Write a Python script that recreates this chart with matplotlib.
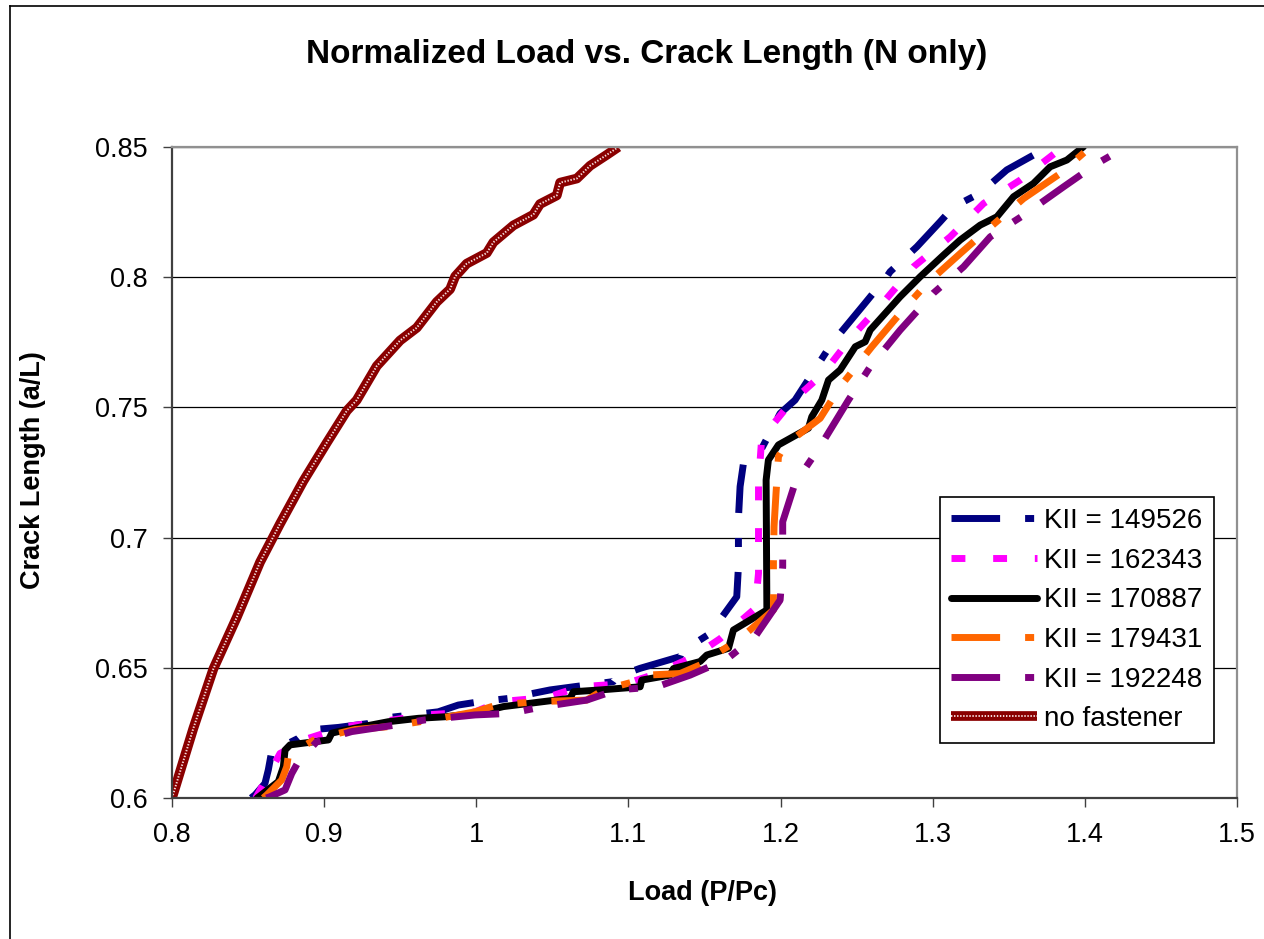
import matplotlib
matplotlib.use('Agg')
import matplotlib.pyplot as plt
from matplotlib.lines import Line2D
from matplotlib.legend_handler import HandlerTuple

plt.rcParams['font.family'] = ['Liberation Sans', 'DejaVu Sans']
plt.rcParams['lines.scale_dashes'] = False

# normalized load (P/Pc) and crack length (a/L) for each KII value
load_149526 = [0.8520, 0.8546, 0.8611, 0.8633, 0.8655, 0.8830, 0.8896, 0.9093,
               0.9290, 0.9378, 0.9575, 0.9750, 0.9882, 1.0025, 1.0222, 1.0375,
               1.0485, 1.0638, 1.0901, 1.0923, 1.1077, 1.1340, 1.1350, 1.1537,
               1.1712, 1.1723, 1.1723, 1.1734, 1.1756, 1.1876, 1.1997, 1.2095,
               1.2337, 1.2545, 1.2698, 1.2720, 1.2896, 1.3049, 1.3137, 1.3312,
               1.3487, 1.3684, 1.3728]
crack_149526 = [0.6000, 0.6012, 0.6056, 0.6108, 0.6178, 0.6229, 0.6261, 0.6271,
                0.6286, 0.6306, 0.6319, 0.6331, 0.6357, 0.6370, 0.6383, 0.6402,
                0.6415, 0.6427, 0.6447, 0.6466, 0.6498, 0.6543, 0.6562, 0.6632,
                0.6773, 0.6888, 0.7074, 0.7196, 0.7285, 0.7342, 0.7477, 0.7528,
                0.7746, 0.7893, 0.8002, 0.8021, 0.8117, 0.8213, 0.8270, 0.8323,
                0.8412, 0.8476, 0.8500]

load_162343 = [0.8550, 0.8567, 0.8710, 0.8896, 0.9137, 0.9378, 0.9663, 0.9992,
               1.0157, 1.0463, 1.0682, 1.0989, 1.1186, 1.1428, 1.1603, 1.1833,
               1.1855, 1.1855, 1.1876, 1.2063, 1.2282, 1.2469, 1.2688, 1.2874,
               1.3115, 1.3334, 1.3575, 1.3816, 1.3860]
crack_162343 = [0.6000, 0.6018, 0.6171, 0.6229, 0.6274, 0.6293, 0.6319, 0.6331,
                0.6370, 0.6386, 0.6427, 0.6440, 0.6478, 0.6543, 0.6612, 0.6728,
                0.6863, 0.7209, 0.7382, 0.7516, 0.7631, 0.7772, 0.7912, 0.8040,
                0.8155, 0.8283, 0.8373, 0.8482, 0.8500]

load_170887 = [0.8560, 0.8699, 0.8732, 0.8743, 0.8776, 0.9028, 0.9050, 0.9137,
               0.9422, 0.9619, 0.9795, 0.9992, 1.0178, 1.0617, 1.0638, 1.0814,
               1.1077, 1.1088, 1.1274, 1.1296, 1.1471, 1.1515, 1.1658, 1.1690,
               1.1910, 1.1905, 1.1920, 1.1986, 1.2183, 1.2205, 1.2271, 1.2315,
               1.2392, 1.2491, 1.2556, 1.2589, 1.2786, 1.2918, 1.3071, 1.3181,
               1.3312, 1.3422, 1.3531, 1.3662, 1.3772, 1.3882, 1.3991]
crack_170887 = [0.6000, 0.6063, 0.6120, 0.6184, 0.6204, 0.6223, 0.6249, 0.6261,
                0.6293, 0.6306, 0.6312, 0.6325, 0.6351, 0.6383, 0.6408, 0.6415,
                0.6427, 0.6453, 0.6472, 0.6497, 0.6524, 0.6549, 0.6575, 0.6645,
                0.6722, 0.7221, 0.7298, 0.7356, 0.7420, 0.7464, 0.7528, 0.7605,
                0.7644, 0.7733, 0.7752, 0.7797, 0.7925, 0.8002, 0.8085, 0.8143,
                0.8200, 0.8232, 0.8309, 0.8360, 0.8424, 0.8450, 0.8501]

load_179431 = [0.8600, 0.8623, 0.8721, 0.8754, 0.8765, 0.8951, 0.9203, 0.9422,
               0.9706, 0.9992, 1.0134, 1.0397, 1.0726, 1.0835, 1.1077, 1.1121,
               1.1340, 1.1471, 1.1581, 1.1723, 1.1953, 1.1953, 1.1957, 1.1970,
               1.1986, 1.2030, 1.2260, 1.2392, 1.2600, 1.2786, 1.2962, 1.3181,
               1.3356, 1.3597, 1.3838, 1.4013, 1.4035]
crack_179431 = [0.6000, 0.6012, 0.6069, 0.6120, 0.6165, 0.6229, 0.6263, 0.6274,
                0.6300, 0.6331, 0.6357, 0.6370, 0.6376, 0.6415, 0.6453, 0.6472,
                0.6478, 0.6511, 0.6555, 0.6607, 0.6722, 0.6902, 0.7042, 0.7170,
                0.7311, 0.7356, 0.7458, 0.7580, 0.7733, 0.7861, 0.7976, 0.8091,
                0.8181, 0.8302, 0.8398, 0.8488, 0.8500]

load_192248 = [0.8620, 0.8644, 0.8743, 0.8787, 0.8830, 0.8951, 0.9181, 0.9466,
               0.9663, 0.9992, 1.0222, 1.0441, 1.0726, 1.0923, 1.1186, 1.1406,
               1.1646, 1.1833, 1.1997, 1.2014, 1.2014, 1.2095, 1.2260, 1.2446,
               1.2589, 1.2786, 1.3005, 1.3203, 1.3378, 1.3597, 1.3860, 1.4079,
               1.4233, 1.4266]
crack_192248 = [0.6000, 0.6005, 0.6031, 0.6094, 0.6139, 0.6216, 0.6255, 0.6280,
                0.6300, 0.6319, 0.6325, 0.6351, 0.6376, 0.6415, 0.6427, 0.6472,
                0.6533, 0.6620, 0.6760, 0.6888, 0.7061, 0.7209, 0.7350, 0.7528,
                0.7656, 0.7797, 0.7939, 0.8040, 0.8155, 0.8238, 0.8347, 0.8436,
                0.8488, 0.8500]

load_no_fastener = [0.8000, 0.8140, 0.8272, 0.8425, 0.8579, 0.8710, 0.8863,
                    0.9017, 0.9149, 0.9214, 0.9346, 0.9499, 0.9609, 0.9740,
                    0.9828, 0.9861, 0.9937, 1.0069, 1.0112, 1.0244, 1.0375,
                    1.0419, 1.0529, 1.0551, 1.0661, 1.0748, 1.0858, 1.0934]
crack_no_fastener = [0.6000, 0.6267, 0.6496, 0.6693, 0.6906, 0.7053, 0.7217,
                     0.7364, 0.7487, 0.7528, 0.7659, 0.7757, 0.7806, 0.7905,
                     0.7954, 0.8003, 0.8052, 0.8093, 0.8134, 0.8199, 0.8240,
                     0.8281, 0.8314, 0.8363, 0.8379, 0.8428, 0.8470, 0.8500]

x_ticks = [0.8, 0.9, 1.0, 1.1, 1.2, 1.3, 1.4, 1.5]
x_tick_labels = ['0.8', '0.9', '1', '1.1', '1.2', '1.3', '1.4', '1.5']
y_ticks = [0.6, 0.65, 0.7, 0.75, 0.8, 0.85]
y_tick_labels = ['0.6', '0.65', '0.7', '0.75', '0.8', '0.85']

W, H = 1264, 939


def main():
    fig = plt.figure(figsize=(W / 100, H / 100), dpi=100)
    ax = fig.add_axes([172 / W, 1 - 798 / H, 1065 / W, 651 / H])

    long_dash_dot = (0, (35, 18, 6.5, 18))
    short_dash = (0, (10, 20))
    lw = 5.0

    h1, = ax.plot(load_149526, crack_149526, color='#000080', lw=lw,
                  linestyle=long_dash_dot, dash_capstyle='butt')
    h2, = ax.plot(load_162343, crack_162343, color='#ff00ff', lw=lw,
                  linestyle=short_dash, dash_capstyle='butt')
    h3, = ax.plot(load_170887, crack_170887, color='black', lw=lw,
                  solid_capstyle='round', solid_joinstyle='round')
    h4, = ax.plot(load_179431, crack_179431, color='#ff6600', lw=lw,
                  linestyle=long_dash_dot, dash_capstyle='butt')
    h5, = ax.plot(load_192248, crack_192248, color='#800080', lw=lw,
                  linestyle=long_dash_dot, dash_capstyle='butt')
    # textured line: dark red body with a white dotted core
    h6a, = ax.plot(load_no_fastener, crack_no_fastener, color='#8a0000',
                   lw=7.0, solid_capstyle='butt')
    h6b, = ax.plot(load_no_fastener, crack_no_fastener, color='#f4dcdc',
                   lw=1.4, linestyle=(0, (1.0, 1.2)), dash_capstyle='butt')

    ax.set_xlim(0.8, 1.5)
    ax.set_ylim(0.6, 0.85)
    ax.set_xticks(x_ticks)
    ax.set_xticklabels(x_tick_labels)
    ax.set_yticks(y_ticks)
    ax.set_yticklabels(y_tick_labels)
    ax.tick_params(axis='both', direction='out', length=6.5, width=1.0,
                   labelsize=19.5, color='#404040')
    ax.tick_params(axis='x', pad=11)
    ax.tick_params(axis='y', pad=11)
    ax.yaxis.grid(True, color='black', lw=0.9)
    ax.set_axisbelow(True)

    for side in ('left', 'bottom'):
        ax.spines[side].set_color('#404040')
        ax.spines[side].set_linewidth(1.6)
    for side in ('top', 'right'):
        ax.spines[side].set_color('#909090')
        ax.spines[side].set_linewidth(1.6)

    fig.text(647 / W, 1 - 55 / H, 'Normalized Load vs. Crack Length (N only)',
             ha='center', va='center', fontsize=24, fontweight='bold')
    fig.text(703 / W, 1 - 893 / H, 'Load (P/Pc)', ha='center', va='center',
             fontsize=19.5, fontweight='bold')
    fig.text(33 / W, 1 - 470 / H, 'Crack Length (a/L)', ha='center',
             va='center', rotation=90, fontsize=19.5, fontweight='bold')

    leg = ax.legend([h1, h2, h3, h4, h5, (h6a, h6b)],
                    ['KII = 149526', 'KII = 162343', 'KII = 170887',
                     'KII = 179431', 'KII = 192248', 'no fastener'],
                    handler_map={tuple: HandlerTuple(ndivide=1, pad=0)},
                    loc='upper left', bbox_to_anchor=(940 / W, 1 - 497 / H),
                    bbox_transform=fig.transFigure, borderaxespad=0,
                    fontsize=20, handlelength=3.1, handletextpad=0.25,
                    labelspacing=0.49, borderpad=0.4, fancybox=False,
                    framealpha=1, edgecolor='black')
    leg.get_frame().set_linewidth(1.2)

    # chart area border along the left and top edges
    fig.add_artist(Line2D([10.5 / W, 10.5 / W], [0, 1 - 6 / H],
                          color='black', lw=1.2))
    fig.add_artist(Line2D([10.5 / W, 1], [1 - 6 / H, 1 - 6 / H],
                          color='black', lw=1.2))

    fig.savefig('out.png', dpi=100)


if __name__ == '__main__':
    main()
